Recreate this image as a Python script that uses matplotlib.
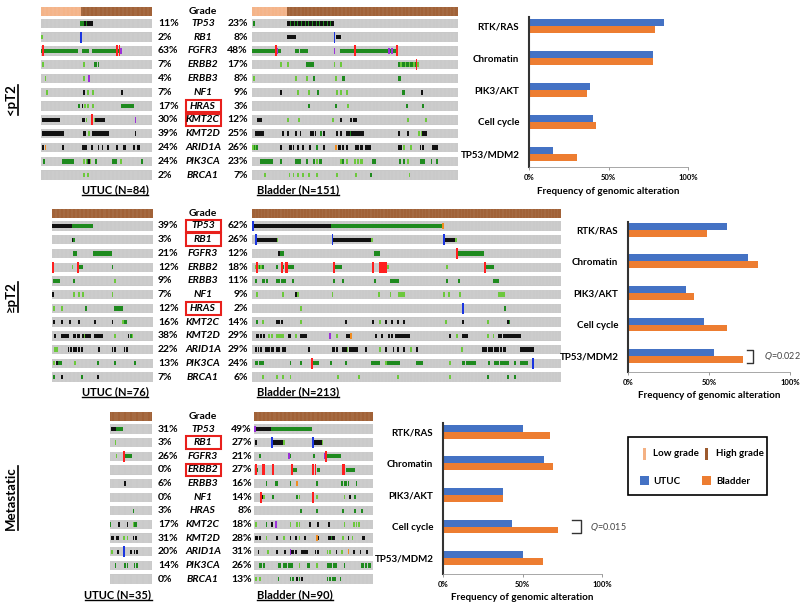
import matplotlib
matplotlib.use('Agg')
import matplotlib.pyplot as plt
from matplotlib.patches import Rectangle

plt.rcParams['font.family'] = ['Lato', 'DejaVu Sans']

# ---- data ----
genes = ['TP53', 'RB1', 'FGFR3', 'ERBB2', 'ERBB3', 'NF1', 'HRAS',
         'KMT2C', 'KMT2D', 'ARID1A', 'PIK3CA', 'BRCA1']
pathways = ['RTK/RAS', 'Chromatin', 'PIK3/AKT', 'Cell cycle', 'TP53/MDM2']
stages = ['<pT2', '≥pT2', 'Metastatic']
n_utuc = [84, 76, 35]
n_bladder = [151, 213, 90]
low_grade_utuc = [30, 0, 0]
low_grade_bladder = [26, 0, 0]

pct_utuc = [[11, 2, 63, 7, 4, 7, 17, 30, 39, 24, 24, 2],
            [39, 3, 21, 12, 9, 7, 12, 16, 38, 22, 13, 7],
            [31, 3, 26, 0, 6, 0, 3, 17, 31, 20, 14, 0]]
pct_bladder = [[23, 8, 48, 17, 8, 9, 3, 12, 25, 26, 23, 7],
               [62, 26, 12, 18, 11, 9, 2, 14, 29, 29, 24, 6],
               [49, 27, 21, 27, 16, 14, 8, 18, 28, 31, 26, 13]]
boxed_genes = [['HRAS', 'KMT2C'], ['TP53', 'RB1', 'HRAS'], ['RB1', 'ERBB2']]

path_utuc = [[85, 78, 38.5, 40, 15],
             [61, 74, 36, 47, 53],
             [50, 63.5, 37.5, 43.5, 50]]
path_bladder = [[79, 78, 36.5, 42, 30],
                [49, 80, 41, 61, 71],
                [67.5, 69, 37.5, 72.5, 63]]
q_pathway = [None, 'TP53/MDM2', 'Cell cycle']
q_values = [None, '0.022', '0.015']

# alteration tracks: "start-end:pattern" or "start:codes", one string per gene
# g missense, l other mutation, k truncating, r amplification, b deletion, p/o other
utuc_pt2a = [
    "30-38:gggkgkkkk", "0:l 30:b",
    "0-27:g 1:r 31-35:g 39-56:g 57:r 58:g 59:r 60:p",
    "1:l 32:l 40-41:g 43:g", "3:l 32:l 36:p", "4:l 32:k 35:l 39:l 61:k",
    "28:g 31:k 33:l 35:l 39:l 61-69:g",
    "1-13:k 31-32:k 34:l 38:r 40:l 41-47:k 71:p",
    "1-16:k 32-33:k 36:l 39-50:k 71:k",
    "1:k 3:o 16:k 31-34:k 38:k 43:k 46:k 50:k 57:k 62-63:k 70:k 73-74:k",
    "2:g 16-24:g 32:l 34-37:lgkl 41:g 54-56:g 60:l 76:g",
    "32:l 35:l"]
bladder_pt2a = [
    "1:g 26-59:kkgkkgkg", "26-31:k 60:b 62-64:k",
    "0-20:g 17:r 18:p 32-33:g 35-40:g 60:p 65-105:g 75:r 100:p 102:p 106:r",
    "21:l 26:l 40-44:g 60:l 65:l 107-121:ggl 120:r",
    "1:l 32:l 40:l 45:g 61:l 66-67:g 107-108:g",
    "21:k 33:l 41:l 48:g 62:l 65:l 69:l 110-111:g 124:k",
    "41:g 61:g 70:l 113:g 125:g",
    "4-6:k 26:l 34:l 59:l 65:k 72:k 74-76:k 114:l 127:l",
    "2-8:k 22:k 26:k 32:k 35:k 43-44:k 46:k 50:g 52:k 62:k 65:k 69-71:k 72:g "
    "73-81:k 107:k 114:k 122:l 124:l 125-127:k",
    "0-3:lg 21:k 27-28:k 30:k 33:k 37:k 42:k 47:g 52:k 61:o 63-64:k 66:k 69:k "
    "76-77:k 79-80:k 83-86:k 107:k 109:k 111:l 116:l 123:k 125:k 132-135:k",
    "6-14:g 21:g 32-35:g 40:g 45:g 47:l 49:g 50:g 65:l 66:g 69:l 75:l 77:l 79-80:l "
    "88-90:g 108:g 111:g 114:l 123-126:g 131:g 135:g",
    "9:l 27:l 30:l 33:l 37:l 41:l 47:l 62:l 76:l 87:g 115:l"]
utuc_pt2b = [
    "0-14:k 15-30:g", "15:k 16:g", "16-18:g 31-44:g",
    "0:r 15:l 19:r 20-22:g 45:g", "1-5:g 16:g 47:l",
    "0:k 16:l 20:l 23:l 45:l", "1:l 7:l 25:g 47-52:g",
    "1:k 7:k 13:k 20:k 32:k 45:k 53:l 54-55:g",
    "2:k 7-12:k 16-17:k 19-20:k 23:k 24:l 25-28:k 32-37:k 47:l 57:k 59:g 60:l",
    "2-3:l 12:k 14:k 16:k 17-18:k 20:k 22:k 35:k 45:k 47:k 54:k 56:k",
    "1:l 3:k 5-6:g 17:l 34:g 47:g 62:g",
    "1:g 7:k 22:g 34:k"]
bladder_pt2b = [
    "1-53:k 54-130:g 131:o 0:b",
    "3-16:k 17:l 55-81:k 82:l 133-139:k 140:l 2:b 55:b 132:b",
    "18:k 19-21:g 84-87:g 142-159:g 141:r",
    "2-7:lg 17:g 21:g 25-28:g 57-61:g 93:l 134:l 161-166:g 3:r 20:r 23-24:r 56:r "
    "83:r 88-92:r 160:r",
    "2:g 7-8:g 10:g 17-18:g 20-22:g 28:g 56:g 62:g 84:g 95-100:g 134:g 142:g 166-169:g",
    "3:l 21:l 30:k 31:l 55:l 87:l 95:l 101-104:l 132:l 135:l 143:l 170-173:l",
    "33:l 174:g 145:b",
    "3:g 7:l 17-18:k 20:k 33:l 64:k 83:k 88:l 92:k 96:k 100:k 104:k 133:l 145:k "
    "162:l 176:k 177:g",
    "3-4:k 6:k 8:k 11:l 13:l 17-21:l 25:k 26:k 30:l 33-37:k 53:p 58:l 65-67:k 68:o "
    "85:k 89:k 94:k 96:k 99-108:k 136:k 141:l 145-148:k 162:l 166:l 170-171:k 173-184:k",
    "2:k 4:k 6:k 9-11:k 13-14:k 17-18:k 21-22:k 39:k 55-56:k 58:k 62-64:k 65:l "
    "67-72:k 78:k 88:l 92:k 97:k 100:k 104:k 109:l 113:k 144:l 159-161:k 163-165:k "
    "167-169:k 171:k 173-174:k 185-193:k",
    "2-3:g 5-7:g 26:g 33:g 41:r 42-45:g 54:g 64:g 82-87:g 92:l 93-101:g 113-117:g "
    "136:l 145-146:g 148-153:g 163:g 167-169:g 171-176:g 181:g 185-189:g 193:b",
    "7:l 17:l 21:l 26:l 59:l 73:l 100:l 136:l 162:g 176:g 181:g"]
utuc_met = [
    "1-4:k 5-10:g", "4:l", "5:l 11:r 12-17:g", "", "12:k", "", "19:g",
    "0:g 7:k 14:k 19:l 20-21:g", "1-2:k 5-6:k 11:l 14:l 19:k 21:k",
    "1:l 6:k 11:b 17:k 20:k 22:k", "4:g 12:g 14:g 20:g 22:g", ""]
bladder_met = [
    "0:p 1-12:k 13-43:g",
    "1:k 14-21:k 22:l 45-50:k 51:l 13:b 44:b",
    "4:g 26:p 27:g 45:g 53:p 55-65:g 54:r",
    "2:g 29-31:g 48-49:g 70-75:g 1:r 6-7:r 14:r 28:r 44:r 46:r 67-68:r",
    "9:g 16-17:g 27:g 32:o 47:g 66:g 68-69:g 71:g 77:g",
    "6:k 7:l 14:g 32:g 34:l 47:l 68:l 72:k 76:g 5:r 44:r",
    "35:g 47:g 67:g 76:g 81:g",
    "1:l 9:g 13:k 16:p 27:l 32:l 34:l 42:k 48:k 56:k 68:l 75:l 77:l 79:l",
    "1-2:k 4:k 9:l 17:k 22:l 27:k 31:k 34:l 38:k 47:o 48:k 56-60:kkgkk 67:l 71:k "
    "74:l 82-83:k",
    "3:k 10:l 17:k 23:k 27:p 28-29:k 31:k 36-40:k 46:k 48:k 55:l 57:l 62:k 66:l "
    "71:o 75:k 80:k 85:k",
    "4-5:g 7:g 18-19:g 22-24:g 26-28:g 34:l 40-41:g 47:l 55-56:g 58:g 60-62:g 68:g "
    "81-82:g 84:g 86-87:g",
    "1:l 4:l 18:g 27:g 29:g 32:k 34:g 36:k 55:g 57:g 59:g 61:g 65:g"]
tracks_utuc = [utuc_pt2a, utuc_pt2b, utuc_met]
tracks_bladder = [bladder_pt2a, bladder_pt2b, bladder_met]

# ---- style ----
GREY = '#c8c8c8'
LOW = '#f4b183'
HIGH = '#9c5a2e'
BLUE = '#4472c4'
ORANGE = '#ed7d31'
MARK = {'g': '#1e8a1e', 'l': '#6cc83c', 'k': '#111111', 'r': '#ff1f1f',
        'b': '#1a35e0', 'p': '#9b30d9', 'o': '#f08c20'}
MARK_H = {'g': 0.32, 'l': 0.32, 'k': 0.32, 'p': 0.45, 'o': 0.4, 'r': 0.8, 'b': 0.8}

W, H = 800, 603
fig = plt.figure(figsize=(8, 6.03), dpi=100)
overlay = fig.add_axes([0, 0, 1, 1])
overlay.set_xlim(0, W)
overlay.set_ylim(H, 0)
overlay.axis('off')


def px_axes(x0, y0, x1, y1):
    return fig.add_axes([x0 / W, 1 - y1 / H, (x1 - x0) / W, (y1 - y0) / H])


def parse(spec):
    out = []
    for tok in spec.split():
        pos, pat = tok.split(':')
        if '-' in pos:
            a, b = map(int, pos.split('-'))
        else:
            a = int(pos)
            b = a + len(pat) - 1
        for i, s in enumerate(range(a, b + 1)):
            out.append((s, pat[i % len(pat)]))
    return out


def draw_onco(x0, x1, y_first, pitch, n, tracks, n_low):
    ax = px_axes(x0, y_first - 1.5 * pitch, x1, y_first + 11.5 * pitch)
    ax.set_xlim(0, n)
    ax.set_ylim(11.5, -1.5)
    ax.axis('off')
    rows = list(range(len(genes)))
    ax.barh(rows, n, left=0, height=0.68, color=GREY, linewidth=0)
    gy = -0.88
    if n_low:
        ax.barh(gy, n_low, left=0, height=0.66, color=LOW, linewidth=0)
    ax.barh(gy, n - n_low, left=n_low, height=0.66, color=HIGH, linewidth=0)
    for r in [gy] + rows:
        ax.vlines(range(1, n), r - 0.33, r + 0.33, color='white', lw=0.3, alpha=0.25)
    by_code = {}
    for r, spec in enumerate(tracks):
        for s, c in parse(spec):
            by_code.setdefault(c, []).append((s, r))
    for c in ['g', 'l', 'k', 'o', 'p', 'r', 'b']:
        if c not in by_code:
            continue
        xs = [s + 0.5 for s, r in by_code[c]]
        h = MARK_H[c]
        ys = [r - h / 2 for s, r in by_code[c]]
        ax.bar(xs, h, bottom=ys, width=1.3, color=MARK[c], linewidth=0,
               zorder=4 if c in 'rb' else 3)
    return ax


def draw_bars(box, ylims, utuc, bladder, q_path, q_val, q_x):
    ax = px_axes(*box)
    y = list(range(len(pathways)))
    ax.barh([v - 0.11 for v in y], utuc, height=0.22, color=BLUE)
    ax.barh([v + 0.11 for v in y], bladder, height=0.22, color=ORANGE)
    ax.set_xlim(0, 100)
    ax.set_ylim(*ylims)
    ax.set_yticks(y)
    ax.set_yticklabels(pathways, fontsize=7, fontweight='bold')
    ax.set_xticks([0, 50, 100])
    ax.set_xticklabels(['0%', '50%', '100%'], fontsize=5.5, fontweight='bold')
    ax.tick_params(axis='y', length=0, pad=7)
    ax.tick_params(axis='x', length=2, width=0.6, color='#888888', pad=3)
    for s in ['top', 'right']:
        ax.spines[s].set_visible(False)
    ax.spines['left'].set_linewidth(1.5)
    ax.spines['left'].set_color('#333333')
    ax.spines['bottom'].set_linewidth(0.6)
    ax.spines['bottom'].set_color('#999999')
    ax.set_xlabel('Frequency of genomic alteration', fontsize=7, fontweight='bold',
                  labelpad=4)
    if q_path:
        i = pathways.index(q_path)
        x0, x1, xt = q_x
        ax.plot([x0, x1, x1, x0], [i - 0.2, i - 0.2, i + 0.2, i + 0.2],
                color='#333333', lw=1, clip_on=False)
        ax.text(xt, i, '$\\it{Q}$=' + q_val, fontsize=6.5, color='#444444',
                va='center', ha='left')
    return ax


# layout per stage
row_y = [23.3, 226, 429]
pitch = [13.8, 13.73, 13.64]
utuc_x = [(41, 152), (52, 153), (110, 152)]
bladder_x = [(252, 458), (252, 561), (254, 373)]
bladder_pct_x = [248, 248, 252]
label_y = [190, 392, 595]
utuc_label_x = [115, 115, 118]
stage_y = [100, 297, 498]
bar_box = [(529, 17, 688, 167), (628, 222, 790, 372), (443, 423, 602, 574)]
bar_ylim = [(4.42, -0.29), (4.5, -0.24), (4.5, -0.27)]
q_xpos = [None, (73.5, 77, 84), (81, 87, 92.5)]

underline = []
underline_v = []
for k in range(3):
    draw_onco(utuc_x[k][0], utuc_x[k][1], row_y[k], pitch[k], n_utuc[k],
              tracks_utuc[k], low_grade_utuc[k])
    draw_onco(bladder_x[k][0], bladder_x[k][1], row_y[k], pitch[k], n_bladder[k],
              tracks_bladder[k], low_grade_bladder[k])
    gy = row_y[k] - 0.88 * pitch[k]
    overlay.text(203, gy, 'Grade', ha='center', va='center', fontsize=7.5,
                 fontweight='bold')
    for i, g in enumerate(genes):
        yc = row_y[k] + i * pitch[k]
        overlay.text(203, yc, g, ha='center', va='center', fontsize=7.5,
                     fontweight='bold', style='italic')
        overlay.text(158, yc, f'{pct_utuc[k][i]}%', ha='left', va='center',
                     fontsize=7.5, fontweight='bold')
        overlay.text(bladder_pct_x[k], yc, f'{pct_bladder[k][i]}%', ha='right',
                     va='center', fontsize=7.5, fontweight='bold')
        if g in boxed_genes[k]:
            overlay.add_patch(Rectangle((186, yc - 6.3), 35, 12.6, fill=False,
                                        edgecolor='#e8201c', lw=1.5))
    t = overlay.text(utuc_label_x[k], label_y[k], f'UTUC (N={n_utuc[k]})',
                     ha='center', va='center', fontsize=8, fontweight='bold')
    underline.append(t)
    t = overlay.text(257, label_y[k], f'Bladder (N={n_bladder[k]})', ha='left',
                     va='center', fontsize=8, fontweight='bold')
    underline.append(t)
    t = overlay.text(11, stage_y[k], stages[k], rotation=90, ha='center',
                     va='center', fontsize=9.5, fontweight='bold')
    underline_v.append(t)

for k in range(3):
    draw_bars(bar_box[k], bar_ylim[k], path_utuc[k], path_bladder[k],
              q_pathway[k], q_values[k], q_xpos[k])

# legend
overlay.add_patch(Rectangle((628, 437), 139, 58, fill=False, edgecolor='black', lw=1.2))
overlay.add_patch(Rectangle((643, 448), 3, 12, color=LOW, lw=0))
overlay.add_patch(Rectangle((705, 448), 3, 12, color=HIGH, lw=0))
overlay.add_patch(Rectangle((640, 476), 9, 9, color=BLUE, lw=0))
overlay.add_patch(Rectangle((702, 476), 9, 9, color=ORANGE, lw=0))
for x, y, s in [(653, 454, 'Low grade'), (716, 454, 'High grade'),
                (653, 481, 'UTUC'), (716, 481, 'Bladder')]:
    overlay.text(x, y, s, ha='left', va='center', fontsize=7, fontweight='bold')

# underlines
fig.canvas.draw()
renderer = fig.canvas.get_renderer()
for t in underline:
    bb = t.get_window_extent(renderer)
    overlay.plot([bb.x0, bb.x1], [H - bb.y0 - 0.5, H - bb.y0 - 0.5], color='black', lw=1)
for t in underline_v:
    bb = t.get_window_extent(renderer)
    overlay.plot([bb.x1 + 0.5, bb.x1 + 0.5], [H - bb.y0, H - bb.y1], color='black', lw=1.2)

fig.savefig('out.png', dpi=100)
